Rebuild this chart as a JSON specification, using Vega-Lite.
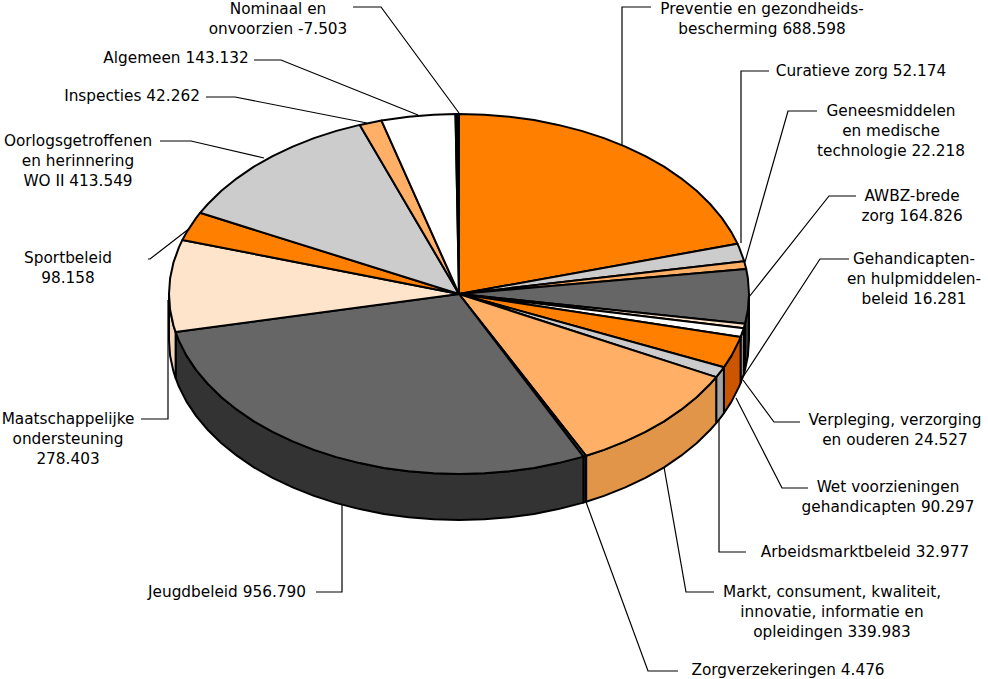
{"$schema":"https://vega.github.io/schema/vega-lite/v6.json","width":988,"height":679,"padding":0,"autosize":"none","background":"white","config":{"view":{"stroke":null}},
"datasets":{
"top":[
{"slice":"Preventie","value":688.598,"x":[0,0,25.3,50.4,75.1,99.2,122.6,145,166.3,186.4,205.1,222.1,237.6,251.1,262.8,272.5,278.5,0],"y":[0,180,179.3,177.3,173.9,169.1,163.1,155.9,147.4,137.9,127.3,115.7,103.2,90,76.1,61.6,50.2,0]},
{"slice":"Curatieve","value":52.174,"x":[0,278.5,280.1,285.2,0],"y":[0,50.2,46.6,32.8,0]},
{"slice":"Geneesmiddelen","value":22.218,"x":[0,285.2,287.2,0],"y":[0,32.8,25,0]},
{"slice":"AWBZ","value":164.826,"x":[0,287.2,288.9,290,288.9,286,0],"y":[0,25,15.7,0,-15.7,-29.7,0]},
{"slice":"Gehandicapten","value":16.281,"x":[0,286,284.7,0],"y":[0,-29.7,-34.3,0]},
{"slice":"Verpleging","value":24.527,"x":[0,284.7,281.6,0],"y":[0,-34.3,-42.9,0]},
{"slice":"Wet","value":90.297,"x":[0,281.6,280.1,272.5,264.9,0],"y":[0,-42.9,-46.6,-61.6,-73.2,0]},
{"slice":"Arbeidsmarkt","value":32.977,"x":[0,264.9,262.8,257.2,0],"y":[0,-73.2,-76.1,-83.1,0]},
{"slice":"Markt","value":339.983,"x":[0,257.2,251.1,237.6,222.1,205.1,186.4,166.3,145,127.1,0],"y":[0,-83.1,-90,-103.2,-115.7,-127.3,-137.9,-147.4,-155.9,-161.8,0]},
{"slice":"Zorgverzekeringen","value":4.476,"x":[0,127.1,124.4,0],"y":[0,-161.8,-162.6,0]},
{"slice":"Jeugd","value":956.79,"x":[0,124.4,122.6,99.2,75.1,50.4,25.3,0,-25.3,-50.4,-75.1,-99.2,-122.6,-145,-166.3,-186.4,-205.1,-222.1,-237.6,-251.1,-262.8,-272.5,-280.1,-283.4,0],"y":[0,-162.6,-163.1,-169.1,-173.9,-177.3,-179.3,-180,-179.3,-177.3,-173.9,-169.1,-163.1,-155.9,-147.4,-137.9,-127.3,-115.7,-103.2,-90,-76.1,-61.6,-46.6,-38,0]},
{"slice":"Maatschappelijk","value":278.403,"x":[0,-283.4,-285.6,-288.9,-290,-288.9,-285.6,-280.1,-276.6,0],"y":[0,-38,-31.3,-15.7,0,15.7,31.3,46.6,54.1,0]},
{"slice":"Sport","value":98.158,"x":[0,-276.6,-272.5,-262.8,-258.9,0],"y":[0,54.1,61.6,76.1,81.2,0]},
{"slice":"Oorlog","value":413.549,"x":[0,-258.9,-251.1,-237.6,-222.1,-205.1,-186.4,-166.3,-145,-122.6,-99.2,0],"y":[0,81.2,90,103.2,115.7,127.3,137.9,147.4,155.9,163.1,169.1,0]},
{"slice":"Inspecties","value":42.262,"x":[0,-99.2,-77.5,0],"y":[0,169.1,173.4,0]},
{"slice":"Algemeen","value":143.132,"x":[0,-77.5,-50.4,-25.3,-3.5,0],"y":[0,173.4,177.3,179.3,180,0]},
{"slice":"Nominaal","value":-7.503,"x":[0,-3.5,0,0],"y":[0,180,180,0]}
],
"wall":[
{"slice":"AWBZ","x":[290,288.9,286,286,288.9,290,290],"y":[0,-15.7,-29.7,-75.7,-61.7,-46,0]},
{"slice":"Gehandicapten","x":[286,284.7,284.7,286,286],"y":[-29.7,-34.3,-80.3,-75.7,-29.7]},
{"slice":"Verpleging","x":[284.7,281.6,281.6,284.7,284.7],"y":[-34.3,-42.9,-88.9,-80.3,-34.3]},
{"slice":"Wet","x":[281.6,280.1,272.5,264.9,264.9,272.5,280.1,281.6,281.6],"y":[-42.9,-46.6,-61.6,-73.2,-119.2,-107.6,-92.6,-88.9,-42.9]},
{"slice":"Arbeidsmarkt","x":[264.9,262.8,257.2,257.2,262.8,264.9,264.9],"y":[-73.2,-76.1,-83.1,-129.1,-122.1,-119.2,-73.2]},
{"slice":"Markt","x":[257.2,251.1,237.6,222.1,205.1,186.4,166.3,145,127.1,127.1,145,166.3,186.4,205.1,222.1,237.6,251.1,257.2,257.2],"y":[-83.1,-90,-103.2,-115.7,-127.3,-137.9,-147.4,-155.9,-161.8,-207.8,-201.9,-193.4,-183.9,-173.3,-161.7,-149.2,-136,-129.1,-83.1]},
{"slice":"Zorgverzekeringen","x":[127.1,124.4,124.4,127.1,127.1],"y":[-161.8,-162.6,-208.6,-207.8,-161.8]},
{"slice":"Jeugd","x":[124.4,122.6,99.2,75.1,50.4,25.3,0,-25.3,-50.4,-75.1,-99.2,-122.6,-145,-166.3,-186.4,-205.1,-222.1,-237.6,-251.1,-262.8,-272.5,-280.1,-283.4,-283.4,-280.1,-272.5,-262.8,-251.1,-237.6,-222.1,-205.1,-186.4,-166.3,-145,-122.6,-99.2,-75.1,-50.4,-25.3,0,25.3,50.4,75.1,99.2,122.6,124.4,124.4],"y":[-162.6,-163.1,-169.1,-173.9,-177.3,-179.3,-180,-179.3,-177.3,-173.9,-169.1,-163.1,-155.9,-147.4,-137.9,-127.3,-115.7,-103.2,-90,-76.1,-61.6,-46.6,-38,-84,-92.6,-107.6,-122.1,-136,-149.2,-161.7,-173.3,-183.9,-193.4,-201.9,-209.1,-215.1,-219.9,-223.3,-225.3,-226,-225.3,-223.3,-219.9,-215.1,-209.1,-208.6,-162.6]},
{"slice":"Maatschappelijk","x":[-283.4,-285.6,-288.9,-290,-290,-288.9,-285.6,-283.4,-283.4],"y":[-38,-31.3,-15.7,0,-46,-61.7,-77.3,-84,-38]}
],
"labels":[
{"label":"Preventie en gezondheids-\nbescherming 688.598","x":303,"y":285,"lx":[192,163,163],"ly":[287,287,149]},
{"label":"Curatieve zorg 52.174","x":402,"y":223,"lx":[310,282,282],"ly":[223,223,51]},
{"label":"Geneesmiddelen\nen medische\ntechnologie 22.218","x":432,"y":183,"lx":[358,329,286],"ly":[183,183,32]},
{"label":"AWBZ-brede\nzorg 164.826","x":453,"y":98,"lx":[397,370,290],"ly":[98,98,-3]},
{"label":"Gehandicapten-\nen hulpmiddelen-\nbeleid 16.281","x":455,"y":35,"lx":[390,361,284],"ly":[35,35,-83]},
{"label":"Verpleging, verzorging\nen ouderen 24.527","x":436,"y":-126,"lx":[341,315,284],"ly":[-128,-128,-86]},
{"label":"Wet voorzieningen\ngehandicapten 90.297","x":429,"y":-193,"lx":[349,323,277],"ly":[-194,-194,-104]},
{"label":"Arbeidsmarktbeleid 32.977","x":406,"y":-258,"lx":[287,260,260],"ly":[-258,-258,-126]},
{"label":"Markt, consument, kwaliteit,\ninnovatie, informatie en\nopleidingen 339.983","x":373,"y":-298,"lx":[255,227,205],"ly":[-298,-298,-173]},
{"label":"Zorgverzekeringen 4.476","x":329,"y":-376,"lx":[219,189,127],"ly":[-377,-377,-208]},
{"label":"Jeugdbeleid 956.790","x":-232,"y":-298,"lx":[-143,-117,-117],"ly":[-298,-298,-211]},
{"label":"Maatschappelijke\nondersteuning\n278.403","x":-391,"y":-125,"lx":[-318,-291,-291],"ly":[-125,-125,-6]},
{"label":"Sportbeleid\n98.158","x":-391,"y":36,"lx":[-311,-309,-269],"ly":[35,35,66]},
{"label":"Oorlogsgetroffenen\nen herinnering\nWO II 413.549","x":-381,"y":153,"lx":[-299,-268,-195],"ly":[153,153,136]},
{"label":"Inspecties 42.262","x":-327,"y":198,"lx":[-253,-224,-92],"ly":[197,197,171]},
{"label":"Algemeen 143.132","x":-283,"y":236,"lx":[-205,-178,-41],"ly":[234,234,179]},
{"label":"Nominaal en\nonvoorzien -7.503","x":-181,"y":285,"lx":[-106,-78,0],"ly":[287,287,181]}
]},
"encoding":{},
"resolve":{"scale":{"fill":"independent"}},
"layer":[
{"data":{"name":"labels"},"transform":[{"flatten":["lx","ly"]},{"window":[{"op":"row_number","as":"i"}],"groupby":["label"]}],
"mark":{"type":"line","stroke":"black","strokeWidth":1.2},
"encoding":{"x":{"field":"lx","type":"quantitative","axis":null,"scale":{"domain":[-459,529],"nice":false,"zero":false}},"y":{"field":"ly","type":"quantitative","axis":null,"scale":{"domain":[-385,294],"nice":false,"zero":false}},"detail":{"field":"label"},"order":{"field":"i"}}},
{"data":{"name":"wall"},"transform":[{"flatten":["x","y"]},{"window":[{"op":"row_number","as":"i"}],"groupby":["slice"]}],
"mark":{"type":"line","stroke":"black","strokeWidth":2,"strokeJoin":"round"},
"encoding":{"x":{"field":"x","type":"quantitative","axis":null},"y":{"field":"y","type":"quantitative","axis":null},"order":{"field":"i"},"detail":{"field":"slice"},
"fill":{"field":"slice","legend":null,"scale":{"domain":["AWBZ","Gehandicapten","Verpleging","Wet","Arbeidsmarkt","Markt","Zorgverzekeringen","Jeugd","Maatschappelijk"],"range":["#333333","#CCB6A3","#CCCCCC","#CC5500","#A3A3A3","#E09548","#333333","#333333","#F2D6BC"]}}}},
{"data":{"name":"top"},"transform":[{"flatten":["x","y"]},{"window":[{"op":"row_number","as":"i"}],"groupby":["slice"]}],
"mark":{"type":"line","stroke":"black","strokeWidth":2,"strokeJoin":"round"},
"encoding":{"x":{"field":"x","type":"quantitative","axis":null},"y":{"field":"y","type":"quantitative","axis":null},"order":{"field":"i"},"detail":{"field":"slice"},
"fill":{"field":"slice","legend":null,"scale":{"domain":["Preventie","Curatieve","Geneesmiddelen","AWBZ","Gehandicapten","Verpleging","Wet","Arbeidsmarkt","Markt","Zorgverzekeringen","Jeugd","Maatschappelijk","Sport","Oorlog","Inspecties","Algemeen","Nominaal"],"range":["#FF8000","#CCCCCC","#FFB066","#666666","#FFE4CC","#FFFFFF","#FF8000","#CCCCCC","#FFB066","#666666","#666666","#FFE4CC","#FF8000","#CCCCCC","#FFB066","#FFFFFF","#000000"]}}}},
{"data":{"name":"labels"},
"mark":{"type":"text","font":"DejaVu Sans","fontSize":15.3,"lineBreak":"\n","lineHeight":20,"align":"center","baseline":"middle","color":"black"},
"encoding":{"x":{"field":"x","type":"quantitative","axis":null},"y":{"field":"y","type":"quantitative","axis":null},"text":{"field":"label"}}}
]}
